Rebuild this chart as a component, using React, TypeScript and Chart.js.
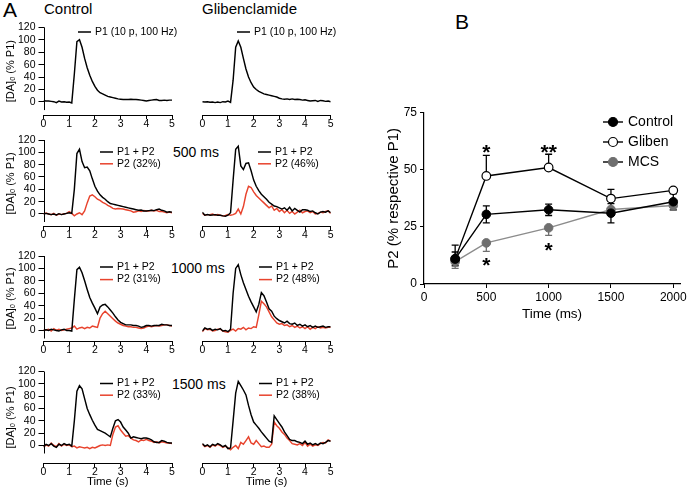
import React, { useEffect, useRef } from 'react';
import { Chart, registerables } from 'chart.js';

Chart.register(...registerables);

const FONT = "'Liberation Sans', Arial, Helvetica, sans-serif";

// ---------- Panel A data ----------
const TIME_S = [
  0, 0.1, 0.2, 0.3, 0.4, 0.5, 0.6, 0.7, 0.8, 0.9,
  1.0, 1.1, 1.2, 1.3, 1.4, 1.5, 1.6, 1.7, 1.8, 1.9,
  2.0, 2.1, 2.2, 2.3, 2.4, 2.5, 2.6, 2.7, 2.8, 2.9,
  3.0, 3.1, 3.2, 3.3, 3.4, 3.5, 3.6, 3.7, 3.8, 3.9,
  4.0, 4.1, 4.2, 4.3, 4.4, 4.5, 4.6, 4.7, 4.8, 4.9,
  5.0,
];
const A_X_TICKS = [0, 1, 2, 3, 4, 5];
const A_Y_TICKS = [0, 20, 40, 60, 80, 100, 120];

const CTL_P1 = [
  2, 1.5, 1.5, 1, 0.5, -1, 1.5, 0, 0.5, -0.5,
  0, -1.5, 45, 97, 100, 88, 70, 55, 43, 33,
  25, 19, 15, 13, 11, 9, 8, 7, 6, 5,
  4.5, 4, 4, 4, 4.5, 4, 4, 3.5, 3, 2.5,
  1.5, 2.5, 3, 3.5, 4, 2.5, 2.5, 3, 2.5, 3,
  3,
];
const GLB_P1 = [
  0.5, 0, 0.5, -0.5, 0, -1, 0, -1, 0.5, 0,
  1.5, -0.5, 35, 88, 98, 88, 70, 53, 40, 31,
  24, 20, 17, 15, 13, 12, 11, 10, 9, 8,
  6, 5, 4.5, 5, 4, 5, 4, 4.5, 4, 3,
  3.5, 2.5, 1.5, 2, 2.5, 1, 2.5, 2, 1, 1.5,
  0.5,
];
const CTL_500_SUM = [
  0, 1, 0, -1, 0, -1.5, 0.5, -1, 0, 1,
  2, 1, 40, 98, 105, 85, 75, 76, 70, 57,
  45, 37, 31, 27, 24, 20, 17, 16, 15, 14,
  13, 12, 11, 10, 9, 8, 7, 6, 6.5, 5,
  5, 5.5, 6, 5.5, 7, 8, 6, 5, 3, 3.5,
  3,
];
const CTL_500_P2 = [
  0, 1.5, 0, -1, 1, -2, 0, -1, 0.5, 1,
  4, 1, -3, 0, 2, -1, 5, 18, 29, 31,
  28, 24, 22, 19, 17, 14, 12, 9, 8, 9,
  8.5, 8, 7, 6, 5, 3, 3.5, 5, 4, 5.5,
  5, 5, 6, 5, 6, 4, 4.5, 3, 2, 3,
  2,
];
const GLB_500_SUM = [
  3, -2, -1, -2, -1.5, -1, -2, -2, -3, -3.5,
  -2, 2, 55, 105, 110, 78, 72, 82, 83, 70,
  55, 45, 38, 32, 28, 24, 19, 16, 13, 12,
  10, 8, 10, 6, 11, 5, 9, 6, 3, 7,
  7, 6, 4, 5, 2, 0, 3, 4, 3, 5,
  2,
];
const GLB_500_P2 = [
  1, -2, -1, -1, 0, -2, -1, -2, -3, -2.5,
  -1, -2, -1, 1, 8, 0, 12, 32, 45, 43,
  36, 30, 26, 22, 18, 14, 10, 13, 6, 9,
  4, 7, 2, 6, 1, 4, 0, 3, 6, 2,
  4, 5, 2, 4, 0, 1, 3, 2, 4, 5,
  1,
];
const CTL_1000_SUM = [
  0, 1, 0, 2, 1, 0, -1, 1, 2, 0,
  0, -1, 50, 98, 102, 93, 80, 66, 53, 44,
  36, 27, 38, 41, 42, 38, 33, 28, 22, 17,
  13, 11, 9, 9, 9, 8, 8, 7, 5, 6,
  8, 8, 7, 8, 8, 8, 10, 9, 9, 8,
  8,
];
const CTL_1000_P2 = [
  1, 1, 2, -1, 3, 0, 2, 0, 1, 2,
  3, 4, 7, 2, 4, 5, 3, 5, 4, 7,
  6, 5, 20, 27, 31, 27, 23, 19, 15, 12,
  10, 8, 7, 6, 6, 5, 5, 4, 3, 4,
  6, 7, 6, 7, 8, 7, 8, 9, 9, 8,
  7,
];
const GLB_1000_SUM = [
  -1, 4, 2, 3, 0, 2, 1, 3, -1, 0,
  -2, 2, 60, 100, 106, 90, 77, 66, 55, 46,
  38, 30, 42, 61, 56, 46, 35, 31, 23, 19,
  16, 14, 12, 15, 11, 10, 12, 8, 10, 7,
  9, 6, 8, 5, 7, 5, 6, 7, 5, 6,
  6,
];
const GLB_1000_P2 = [
  -2, 3, 1, 2, -1, 0, 2, 2, -1, -2,
  -3, 0, 2, -1, 3, 2, 5, 1, 4, 3,
  6, 5, 25, 47, 43, 38, 30, 22, 17, 12,
  10, 11, 8, 9, 6, 8, 5, 7, 4, 6,
  3, 6, 2, 5, 3, 6, 4, 5, 4, 5,
  5,
];
const CTL_1500_SUM = [
  -2, 2, 0, 3, -1, -3, 2, 0, 3, 1,
  2, -1, 40, 88, 97, 92, 76, 60, 50, 41,
  33, 26, 24, 22, 20, 17, 14, 28, 40, 42,
  38, 30, 25, 20, 12, 14, 13, 12, 11, 12,
  12, 11, 9, 6, 5, 5, 8, 7, 5, 4,
  4,
];
const CTL_1500_P2 = [
  -3, 1, -1, 4, 0, -2, 3, -1, 2, 0,
  1, -2, -1, -4, -2, -3, -4, -3, -5, -3,
  -4, -2, 0, 1, 0, 1, 0, 18, 30, 32,
  25, 20, 15, 16, 12, 9, 8, 6, 9, 8,
  10, 8, 7, 5, 6, 4, 6, 5, 4, 4,
  3,
];
const GLB_1500_SUM = [
  3, -1, 1, -2, 2, 0, 3, 1, -2, 0,
  -5, -4, 40, 85, 104, 97, 90, 82, 65, 50,
  38, 33, 28, 22, 17, 12, 7, 5, 48, 42,
  36, 30, 22, 16, 10, 8, 8, 6, 5, 3,
  7, 2, 4, 1, 3, 1, 4, 3, 5, 8,
  7,
];
const GLB_1500_P2 = [
  2, -2, 0, -3, 1, -1, 2, 0, -3, -1,
  -4, -7, -3, 0, -5, 5, 2, 8, 14, 4,
  2, 8, 3, -2, -1, -3, -3, 2, 38, 32,
  28, 22, 18, 12, 8, 3, 2, 1, 3, 0,
  5, -1, 2, -1, 1, 0, 3, 5, 4, 9,
  7,
];

// ---------- Panel B data ----------
const B_TIME_MS = [250, 500, 1000, 1500, 2000];
const B_X_TICKS = [0, 500, 1000, 1500, 2000];
const B_Y_TICKS = [0, 25, 50, 75];
const CONTROL_MEAN = [11, 30.5, 32.5, 31, 36];
const CONTROL_ERR = [3, 3.7, 2.5, 4.2, 3.5];
const GLIBEN_MEAN = [11, 47.3, 51, 37.4, 41];
const GLIBEN_ERR = [6, 9, 5.8, 4, 0.8];
const MCS_MEAN = [9.8, 18, 24.6, 32.6, 34.4];
const MCS_ERR = [3, 3.7, 3.3, 2, 2];
const STAR_X = [500, 1000, 500, 1000];
const STAR_Y = [60, 60, 10.5, 17];
const STAR_TEXT = ['*', '**', '*', '*'];

const RED = '#e8432d';

// ---------- plugins ----------
const traceLegendPlugin = {
  id: 'traceLegend',
  afterDraw(chart: any, _a: any, opts: any) {
    if (!opts || opts.x == null) return;
    const ctx = chart.ctx;
    ctx.save();
    ctx.font = `10.5px ${FONT}`;
    ctx.textBaseline = 'middle';
    ctx.textAlign = 'left';
    chart.data.datasets.forEach((ds: any, i: number) => {
      const y = opts.y + i * opts.gap;
      ctx.strokeStyle = ds.borderColor;
      ctx.lineWidth = 1.5;
      ctx.beginPath();
      ctx.moveTo(opts.x - 17, y);
      ctx.lineTo(opts.x - 4, y);
      ctx.stroke();
      ctx.fillStyle = '#000';
      ctx.fillText(ds.label, opts.x, y);
    });
    ctx.restore();
  },
};

const yAxisLinePlugin = {
  id: 'yAxisLine',
  afterDraw(chart: any, _a: any, opts: any) {
    if (!opts || !opts.show) return;
    const ys = chart.scales.y;
    const x = Math.round(chart.chartArea.left) + 0.5;
    const ctx = chart.ctx;
    ctx.save();
    ctx.strokeStyle = '#000';
    ctx.lineWidth = 1;
    ctx.beginPath();
    ctx.moveTo(x, ys.getPixelForValue(opts.top));
    ctx.lineTo(x, ys.getPixelForValue(opts.bottom));
    ctx.stroke();
    ctx.restore();
  },
};

const errorBarPlugin = {
  id: 'errorBars',
  beforeDatasetsDraw(chart: any) {
    const xs = chart.scales.x;
    const ys = chart.scales.y;
    const ctx = chart.ctx;
    ctx.save();
    chart.data.datasets.forEach((ds: any) => {
      if (!ds.errors) return;
      ctx.strokeStyle = ds.pointBorderColor;
      ctx.lineWidth = 1.3;
      ds.data.forEach((p: any, j: number) => {
        const e = ds.errors[j];
        const px = xs.getPixelForValue(p.x);
        const yc = ys.getPixelForValue(p.y);
        const ends: number[] = [];
        if (ds.errDir === 'up' || ds.errDir === 'both') ends.push(ys.getPixelForValue(p.y + e));
        if (ds.errDir === 'down' || ds.errDir === 'both') ends.push(ys.getPixelForValue(p.y - e));
        ends.forEach((ye) => {
          ctx.beginPath();
          ctx.moveTo(px, yc);
          ctx.lineTo(px, ye);
          ctx.moveTo(px - 3.5, ye);
          ctx.lineTo(px + 3.5, ye);
          ctx.stroke();
        });
      });
    });
    ctx.restore();
  },
};

const starPlugin = {
  id: 'stars',
  afterDatasetsDraw(chart: any) {
    const xs = chart.scales.x;
    const ys = chart.scales.y;
    const ctx = chart.ctx;
    ctx.save();
    ctx.fillStyle = '#000';
    ctx.font = `bold 21px ${FONT}`;
    ctx.textAlign = 'center';
    ctx.textBaseline = 'alphabetic';
    STAR_X.forEach((x, i) => {
      ctx.fillText(STAR_TEXT[i], xs.getPixelForValue(x), ys.getPixelForValue(STAR_Y[i]) + 12);
    });
    ctx.restore();
  },
};

const bLegendPlugin = {
  id: 'bLegend',
  afterDraw(chart: any, _a: any, opts: any) {
    if (!opts || opts.x == null) return;
    const ctx = chart.ctx;
    ctx.save();
    ctx.font = `14px ${FONT}`;
    ctx.textBaseline = 'middle';
    ctx.textAlign = 'left';
    chart.data.datasets.forEach((ds: any, i: number) => {
      const y = opts.y + i * opts.gap;
      ctx.strokeStyle = '#000';
      ctx.lineWidth = 1.4;
      ctx.beginPath();
      ctx.moveTo(opts.x - 10, y);
      ctx.lineTo(opts.x + 10, y);
      ctx.stroke();
      ctx.beginPath();
      ctx.arc(opts.x, y, 4.5, 0, Math.PI * 2);
      ctx.fillStyle = ds.pointBackgroundColor;
      ctx.fill();
      ctx.strokeStyle = ds.pointBorderColor;
      ctx.lineWidth = 1.2;
      ctx.stroke();
      ctx.fillStyle = '#000';
      ctx.fillText(ds.label, opts.x + 15, y);
    });
    ctx.restore();
  },
};

// ---------- components ----------
type Series = { label: string; data: number[]; color: string };
type TraceProps = {
  box: number[];
  area: number[];
  yMin: number;
  showY: boolean;
  xTitle?: string;
  series: Series[];
  legend: number[];
};

function TraceChart({ box, area, yMin, showY, xTitle, series, legend }: TraceProps) {
  const ref = useRef<HTMLCanvasElement>(null);
  const [bl, bt, bw, bh] = box;
  useEffect(() => {
    const [al, at, ar, ab] = area;
    const xAxisH = xTitle ? 26.5 : 18;
    const yAxisW = showY ? al - bl : 0;
    const chart = new Chart(ref.current as HTMLCanvasElement, {
      type: 'line',
      data: {
        datasets: series.map((s) => ({
          label: s.label,
          data: TIME_S.map((t, i) => ({ x: t, y: s.data[i] })),
          borderColor: s.color,
          backgroundColor: s.color,
          borderWidth: 1.45,
          pointRadius: 0,
          tension: 0,
          fill: false,
        })),
      },
      options: {
        animation: false,
        responsive: false,
        maintainAspectRatio: false,
        layout: {
          padding: {
            left: showY ? 0 : al - bl,
            top: at - bt,
            right: bl + bw - ar,
            bottom: bt + bh - ab - xAxisH,
          },
        },
        plugins: {
          legend: { display: false },
          tooltip: { enabled: false },
          traceLegend: { x: legend[0] - bl, y: legend[1] - bt, gap: legend[2] },
          yAxisLine: { show: showY, top: 120, bottom: -13 },
        } as any,
        scales: {
          x: {
            type: 'linear',
            min: 0,
            max: 5,
            afterBuildTicks: (s: any) => {
              s.ticks = A_X_TICKS.map((v) => ({ value: v }));
            },
            afterFit: (s: any) => {
              s.height = xAxisH;
            },
            grid: { display: true, drawOnChartArea: false, drawTicks: true, tickLength: 4, color: '#000', lineWidth: 1 },
            border: { display: true, color: '#000', width: 1 },
            ticks: { font: { family: FONT, size: 10.5 }, color: '#000', padding: -1.5, maxRotation: 0, autoSkip: false },
            title: xTitle
              ? { display: true, text: xTitle, font: { family: FONT, size: 11.5 }, color: '#000', padding: { top: 0, bottom: 1.1 } }
              : { display: false },
          },
          y: {
            type: 'linear',
            display: showY,
            min: yMin,
            max: 120,
            afterBuildTicks: (s: any) => {
              s.ticks = A_Y_TICKS.map((v) => ({ value: v }));
            },
            afterFit: (s: any) => {
              s.width = yAxisW;
            },
            grid: { display: true, drawOnChartArea: false, drawTicks: true, tickLength: 5, color: '#000', lineWidth: 1 },
            border: { display: false },
            ticks: { font: { family: FONT, size: 10.5 }, color: '#000', padding: 3, autoSkip: false },
            title: {
              display: true,
              text: '[DA]ₒ (% P1)',
              font: { family: FONT, size: 11 },
              color: '#000',
              padding: { top: 4.4, bottom: 0 },
            },
          },
        } as any,
      },
      plugins: [traceLegendPlugin, yAxisLinePlugin],
    });
    return () => chart.destroy();
  }, []);
  return (
    <canvas
      ref={ref}
      width={bw}
      height={bh}
      style={{ position: 'absolute', left: bl, top: bt, width: bw, height: bh }}
    />
  );
}

function PanelB() {
  const ref = useRef<HTMLCanvasElement>(null);
  const box = [380, 95, 320, 230];
  const area = [424, 112.7, 680, 284];
  useEffect(() => {
    const [bl, bt, bw, bh] = box;
    const [al, at, ar, ab] = area;
    const pts = (m: number[]) => B_TIME_MS.map((x, i) => ({ x, y: m[i] }));
    const chart = new Chart(ref.current as HTMLCanvasElement, {
      type: 'line',
      data: {
        datasets: [
          {
            label: 'Control',
            data: pts(CONTROL_MEAN),
            borderColor: '#000',
            borderWidth: 1.4,
            pointRadius: 4.3,
            pointBackgroundColor: '#000',
            pointBorderColor: '#000',
            pointBorderWidth: 1,
            tension: 0,
            errors: CONTROL_ERR,
            errDir: 'both',
          },
          {
            label: 'Gliben',
            data: pts(GLIBEN_MEAN),
            borderColor: '#000',
            borderWidth: 1.4,
            pointRadius: 4.3,
            pointBackgroundColor: '#fff',
            pointBorderColor: '#000',
            pointBorderWidth: 1.2,
            tension: 0,
            errors: GLIBEN_ERR,
            errDir: 'up',
          },
          {
            label: 'MCS',
            data: pts(MCS_MEAN),
            borderColor: '#8c8c8c',
            borderWidth: 1.4,
            pointRadius: 4.3,
            pointBackgroundColor: '#6f6f6f',
            pointBorderColor: '#6f6f6f',
            pointBorderWidth: 1,
            tension: 0,
            errors: MCS_ERR,
            errDir: 'down',
          },
        ] as any,
      },
      options: {
        animation: false,
        responsive: false,
        maintainAspectRatio: false,
        layout: { padding: { left: 0, top: at - bt, right: bl + bw - ar, bottom: 0 } },
        plugins: {
          legend: { display: false },
          tooltip: { enabled: false },
          bLegend: { x: 613 - bl, y: 122 - bt, gap: 20 },
        } as any,
        scales: {
          x: {
            type: 'linear',
            min: 0,
            max: 2054,
            afterBuildTicks: (s: any) => {
              s.ticks = B_X_TICKS.map((v) => ({ value: v }));
            },
            afterFit: (s: any) => {
              s.height = bt + bh - ab;
            },
            grid: { display: true, drawOnChartArea: false, drawTicks: true, tickLength: 4, color: '#000' },
            border: { display: true, color: '#000', width: 1.2 },
            ticks: {
              font: { family: FONT, size: 12 },
              color: '#000',
              padding: 2.8,
              maxRotation: 0,
              autoSkip: false,
              callback: (v: any) => String(v),
            },
            title: { display: true, text: 'Time (ms)', font: { family: FONT, size: 13.5 }, color: '#000', padding: { top: 0, bottom: 2.9 } },
          },
          y: {
            type: 'linear',
            min: 0,
            max: 75,
            afterBuildTicks: (s: any) => {
              s.ticks = B_Y_TICKS.map((v) => ({ value: v }));
            },
            afterFit: (s: any) => {
              s.width = al - bl;
            },
            grid: { display: true, drawOnChartArea: false, drawTicks: true, tickLength: 4, color: '#000' },
            border: { display: true, color: '#000', width: 1.2 },
            ticks: { font: { family: FONT, size: 12 }, color: '#000', padding: 3, autoSkip: false, callback: (v: any) => String(v) },
            title: { display: true, text: 'P2 (% respective P1)', font: { family: FONT, size: 15 }, color: '#000', padding: { top: 4.5, bottom: 0 } },
          },
        } as any,
      },
      plugins: [errorBarPlugin, starPlugin, bLegendPlugin],
    });
    return () => chart.destroy();
  }, []);
  return (
    <canvas
      ref={ref}
      width={box[2]}
      height={box[3]}
      style={{ position: 'absolute', left: box[0], top: box[1], width: box[2], height: box[3] }}
    />
  );
}

const txt = (left: number, top: number, size: number, text: string) => (
  <div
    style={{
      position: 'absolute',
      left,
      top,
      fontSize: size,
      lineHeight: `${size}px`,
      fontFamily: FONT,
      color: '#000',
      whiteSpace: 'nowrap',
    }}
  >
    {text}
  </div>
);

export default function App() {
  const L = [43.5, 172];
  const R = [202.3, 330.7];
  return (
    <div
      style={{
        position: 'fixed',
        left: 0,
        top: 0,
        width: 700,
        height: 490,
        background: '#fff',
        overflow: 'hidden',
      }}
    >
      {txt(3, -1, 21, 'A')}
      {txt(455, 11, 21, 'B')}
      {txt(44, 1.3, 15, 'Control')}
      {txt(202, 1.3, 15, 'Glibenclamide')}
      {txt(173, 145.4, 14, '500 ms')}
      {txt(171, 261.4, 14, '1000 ms')}
      {txt(172, 377.4, 14, '1500 ms')}

      <TraceChart box={[0, 16, 180, 117]} area={[L[0], 27.3, L[1], 115]} yMin={-20.9} showY
        series={[{ label: 'P1 (10 p, 100 Hz)', data: CTL_P1, color: '#000' }]} legend={[95, 32, 0]} />
      <TraceChart box={[185, 16, 160, 117]} area={[R[0], 27.3, R[1], 115]} yMin={-20.9} showY={false}
        series={[{ label: 'P1 (10 p, 100 Hz)', data: GLB_P1, color: '#000' }]} legend={[254, 32, 0]} />

      <TraceChart box={[0, 130, 180, 115]} area={[L[0], 140, L[1], 226.7]} yMin={-20.6} showY
        series={[
          { label: 'P1 + P2', data: CTL_500_SUM, color: '#000' },
          { label: 'P2 (32%)', data: CTL_500_P2, color: RED },
        ]} legend={[117, 152, 11.8]} />
      <TraceChart box={[185, 130, 160, 115]} area={[R[0], 140, R[1], 226.7]} yMin={-20.6} showY={false}
        series={[
          { label: 'P1 + P2', data: GLB_500_SUM, color: '#000' },
          { label: 'P2 (46%)', data: GLB_500_P2, color: RED },
        ]} legend={[275, 152, 11.8]} />

      <TraceChart box={[0, 246, 180, 113]} area={[L[0], 256, L[1], 341]} yMin={-17} showY
        series={[
          { label: 'P1 + P2', data: CTL_1000_SUM, color: '#000' },
          { label: 'P2 (31%)', data: CTL_1000_P2, color: RED },
        ]} legend={[117, 267, 12.6]} />
      <TraceChart box={[185, 246, 160, 113]} area={[R[0], 256, R[1], 341]} yMin={-17} showY={false}
        series={[
          { label: 'P1 + P2', data: GLB_1000_SUM, color: '#000' },
          { label: 'P2 (48%)', data: GLB_1000_P2, color: RED },
        ]} legend={[276, 267, 12.6]} />

      <TraceChart box={[0, 361, 180, 129]} area={[L[0], 371.5, L[1], 463.5]} yMin={-29.2} showY xTitle="Time (s)"
        series={[
          { label: 'P1 + P2', data: CTL_1500_SUM, color: '#000' },
          { label: 'P2 (33%)', data: CTL_1500_P2, color: RED },
        ]} legend={[117, 383.5, 11.7]} />
      <TraceChart box={[185, 361, 160, 129]} area={[R[0], 371.5, R[1], 463.5]} yMin={-29.2} showY={false} xTitle="Time (s)"
        series={[
          { label: 'P1 + P2', data: GLB_1500_SUM, color: '#000' },
          { label: 'P2 (38%)', data: GLB_1500_P2, color: RED },
        ]} legend={[276, 383.5, 11.7]} />

      <PanelB />
    </div>
  );
}
